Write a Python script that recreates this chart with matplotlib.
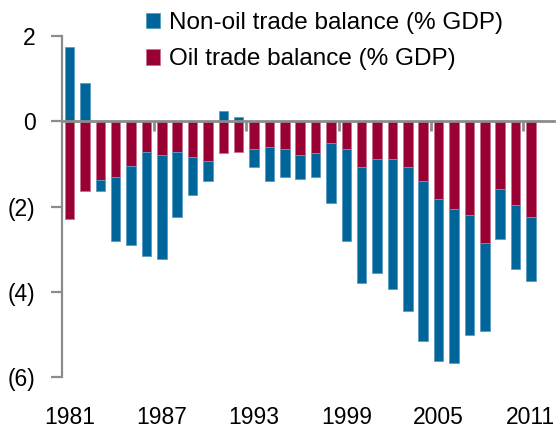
import matplotlib
matplotlib.use("Agg")
import matplotlib.pyplot as plt
import numpy as np

# data
years = list(range(1981, 2012))
oil = [-2.30, -1.64, -1.37, -1.31, -1.04, -0.71, -0.80, -0.71, -0.85, -0.94,
       -0.75, -0.71, -0.66, -0.61, -0.66, -0.80, -0.75, -0.52, -0.66, -1.08,
       -0.89, -0.89, -1.08, -1.41, -1.83, -2.06, -2.20, -2.86, -1.59, -1.97, -2.25]
nonoil = [1.73, 0.89, -0.27, -1.51, -1.87, -2.44, -2.44, -1.54, -0.88, -0.46,
          0.24, 0.09, -0.41, -0.79, -0.65, -0.56, -0.56, -1.40, -2.15, -2.72,
          -2.67, -3.05, -3.37, -3.74, -3.80, -3.62, -2.82, -2.07, -1.17, -1.50, -1.50]
label_years = [1981, 1987, 1993, 1999, 2005, 2011]
yticks = [2, 0, -2, -4, -6]
ylabels = ['2', '0', '(2)', '(4)', '(6)']

plt.rcParams['font.family'] = ['Liberation Sans', 'DejaVu Sans']

blue = '#006699'
red = '#990033'
grey = '#8c8c8c'

fig = plt.figure(figsize=(5.59, 4.28), dpi=100)
ax = fig.add_axes([0.1106, 0.119, 0.8804, 0.797])

x = np.arange(len(years))
oil_a = np.array(oil)
non_a = np.array(nonoil)
non_bottom = np.where(non_a >= 0, 0, oil_a)

ax.bar(x, oil_a, width=0.62, color=red, edgecolor='#c8708f', linewidth=0.6,
       label='Oil trade balance (% GDP)', zorder=2)
ax.bar(x, non_a, bottom=non_bottom, width=0.62, color=blue, edgecolor='#5a9cc4',
       linewidth=0.6, label='Non-oil trade balance (% GDP)', zorder=2)

ax.set_xlim(-0.5, len(years) + 0.5)
ax.set_ylim(-6, 2)

# spines
for s in ['top', 'right']:
    ax.spines[s].set_visible(False)
ax.spines['bottom'].set_position(('data', 0))
ax.spines['bottom'].set_color(grey)
ax.spines['bottom'].set_linewidth(2)
ax.spines['bottom'].set_zorder(3)
ax.spines['left'].set_color(grey)
ax.spines['left'].set_linewidth(1.6)

# tick marks on the zero line between categories
ax.set_xticks([5.5, 11.5, 17.5, 23.5, 29.5])
ax.tick_params(axis='x', direction='out', length=7, width=2, color=grey,
               labelbottom=False)

ax.set_yticks(yticks)
ax.set_yticklabels(ylabels)
ax.tick_params(axis='y', direction='out', length=8, width=1.6, color=grey,
               labelsize=16.5, pad=11)

# year labels at bottom
sec = ax.secondary_xaxis('bottom')
sec.set_xticks([years.index(y) for y in label_years])
sec.set_xticklabels([str(y) for y in label_years])
sec.tick_params(length=0, labelsize=16.5, pad=21)
sec.spines['bottom'].set_visible(False)

handles, labels = ax.get_legend_handles_labels()
leg = fig.legend(handles[::-1], labels[::-1], loc='upper left',
                 bbox_to_anchor=(0.243, 0.995), frameon=False, fontsize=17.5,
                 handlelength=0.6, handleheight=0.6, handletextpad=0.35,
                 labelspacing=0.6, borderaxespad=0)

fig.savefig('out.png', dpi=100)
